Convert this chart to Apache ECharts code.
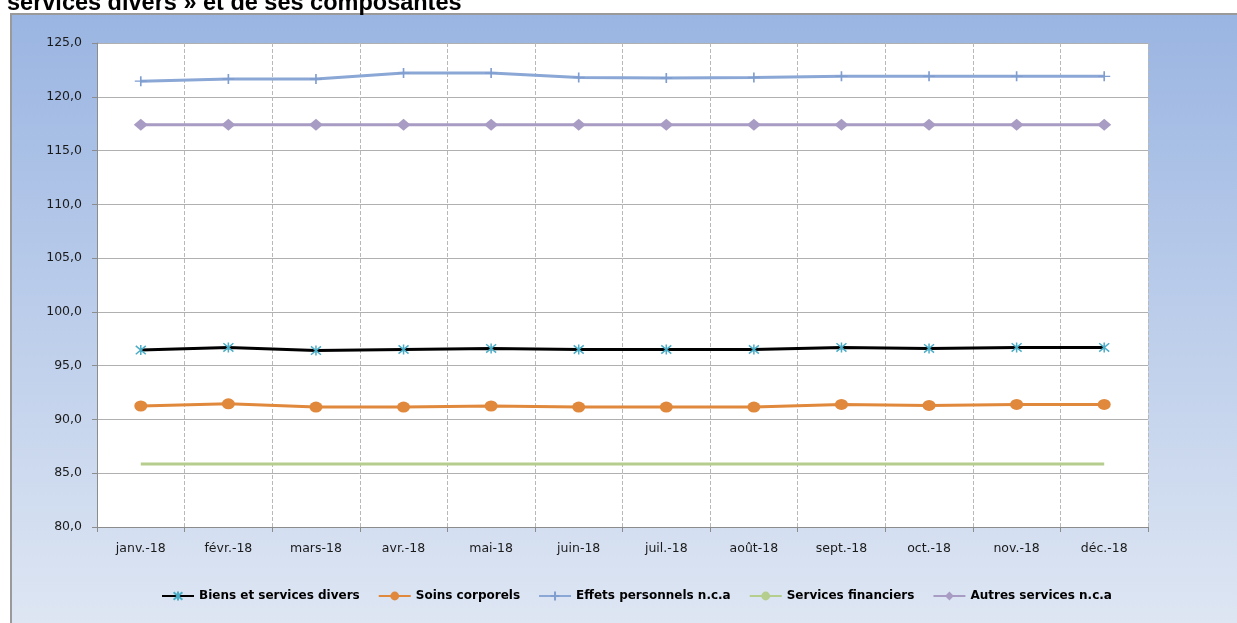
<!DOCTYPE html>
<html><head><meta charset="utf-8">
<script src="https://cdn.jsdelivr.net/npm/echarts@6/dist/echarts.min.js"></script>
<style>html,body{margin:0;padding:0;background:#fff}#c{width:1237px;height:623px}</style>
</head><body><div id="c"></div>
<script>
const titleText = 'services divers » et de ses composantes';
const categories = ['janv.-18','févr.-18','mars-18','avr.-18','mai-18','juin-18','juil.-18','août-18','sept.-18','oct.-18','nov.-18','déc.-18'];
const biensServicesDivers = [96.45, 96.7, 96.4, 96.5, 96.6, 96.5, 96.5, 96.5, 96.7, 96.6, 96.7, 96.7];
const soinsCorporels = [91.25, 91.45, 91.15, 91.15, 91.25, 91.15, 91.15, 91.15, 91.4, 91.3, 91.4, 91.4];
const effetsPersonnels = [121.45, 121.65, 121.65, 122.2, 122.2, 121.8, 121.75, 121.8, 121.9, 121.9, 121.9, 121.9];
const servicesFinanciers = [85.85, 85.85, 85.85, 85.85, 85.85, 85.85, 85.85, 85.85, 85.85, 85.85, 85.85, 85.85];
const autresServices = [117.4, 117.4, 117.4, 117.4, 117.4, 117.4, 117.4, 117.4, 117.4, 117.4, 117.4, 117.4];
const seriesNames = ['Biens et services divers','Soins corporels','Effets personnels n.c.a','Services financiers','Autres services n.c.a'];
const yMin = 80, yMax = 125, yStep = 5;

const chart = echarts.init(document.getElementById('c'), null, {renderer:'canvas'});
const starPath = 'path://M0,0 L10,10 M10,0 L0,10 M5,-1 L5,11';
const plusPath = 'path://M0,5 L12,5 M6,0 L6,10';
chart.setOption({
  animation:false,
  backgroundColor:'#fff',
  graphic:[{
    type:'rect', left:10, top:13, z:-10,
    shape:{width:1227, height:610},
    style:{fill:new echarts.graphic.LinearGradient(0,0,0,1,[{offset:0,color:'#9AB5E2'},{offset:1,color:'#DEE6F3'}]), stroke:'#9a9a9a', lineWidth:2}
  }],
  title:{text:titleText, left:2, top:-13, textStyle:{fontFamily:'Liberation Sans', fontWeight:'bold', fontSize:23.5, color:'#000'}},
  grid:{left:97, top:43, right:89, bottom:96, show:true, backgroundColor:'#fff', borderWidth:0},
  legend:{
    bottom:16, left:156, itemWidth:32, itemHeight:11, itemGap:18,
    textStyle:{fontFamily:'DejaVu Sans', fontWeight:'bold', fontSize:12, color:'#000'},
    data:seriesNames
  },
  xAxis:{
    type:'category', data:categories, boundaryGap:true,
    axisLine:{lineStyle:{color:'#8c8c8c', width:1}},
    axisTick:{show:true, length:5, lineStyle:{color:'#8c8c8c'}},
    axisLabel:{fontFamily:'DejaVu Sans', fontSize:12.5, color:'#1a1a1a', margin:15},
    splitLine:{show:true, lineStyle:{color:'#b8b8b8', type:'dashed', width:1}}
  },
  yAxis:{
    type:'value', min:yMin, max:yMax, interval:yStep,
    axisLine:{show:true, lineStyle:{color:'#8c8c8c'}},
    axisTick:{show:true, length:5, lineStyle:{color:'#8c8c8c'}},
    axisLabel:{fontFamily:'DejaVu Sans', fontSize:12.5, color:'#1a1a1a', margin:15, formatter:v=>v.toFixed(1).replace('.',',')},
    splitLine:{show:true, lineStyle:{color:'#b0b0b0', width:1}}
  },
  series:[
    {name:seriesNames[0], type:'line', data:biensServicesDivers, z:5,
     symbol:starPath, symbolSize:[10,10], showAllSymbol:true,
     lineStyle:{color:'#000', width:3},
     itemStyle:{color:'rgba(0,0,0,0)', borderColor:'#4BACC6', borderWidth:1.5}},
    {name:seriesNames[1], type:'line', data:soinsCorporels, z:4,
     symbol:'circle', symbolSize:[13,11],
     lineStyle:{color:'#E0883C', width:3},
     itemStyle:{color:'#E0883C'}},
    {name:seriesNames[2], type:'line', data:effetsPersonnels, z:3,
     symbol:plusPath, symbolSize:[12,10],
     lineStyle:{color:'#8AA7D6', width:3},
     itemStyle:{color:'rgba(0,0,0,0)', borderColor:'#7F9DCF', borderWidth:1.5}},
    {name:seriesNames[3], type:'line', data:servicesFinanciers, z:2,
     symbol:'none',
     lineStyle:{color:'#B5CD8D', width:3},
     itemStyle:{color:'#B5CD8D'}},
    {name:seriesNames[4], type:'line', data:autresServices, z:2,
     symbol:'diamond', symbolSize:[14,12],
     lineStyle:{color:'#A99CC4', width:3},
     itemStyle:{color:'#A99CC4'}}
  ]
});
</script></body></html>
